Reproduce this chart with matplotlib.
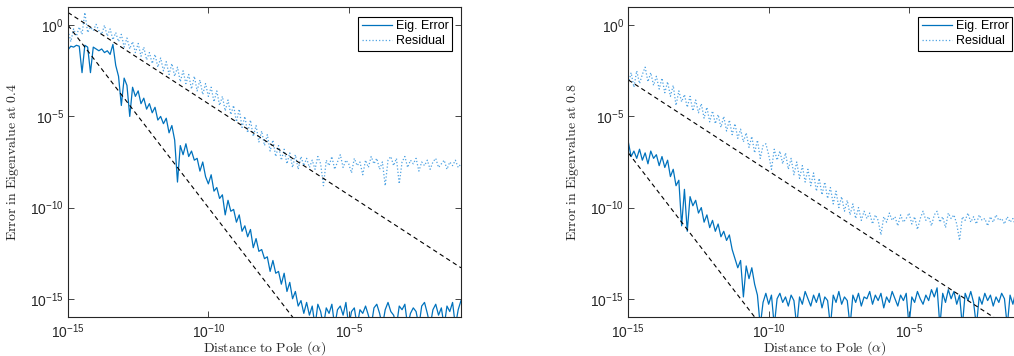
import numpy as np
import matplotlib
matplotlib.use('Agg')
import matplotlib.pyplot as plt
from matplotlib.ticker import FixedLocator, NullLocator

plt.rcParams['font.family'] = ['Liberation Sans', 'DejaVu Sans']
plt.rcParams['mathtext.fontset'] = 'custom'
plt.rcParams['mathtext.rm'] = 'Liberation Sans'
plt.rcParams['mathtext.it'] = 'Liberation Sans:italic'
plt.rcParams['mathtext.bf'] = 'Liberation Sans:bold'

# log10 of the values on a grid from 1e-15 to 1e-1
# --- eigenvalue at 0.4 ---
eig_err_04 = [
    -1.35, -1.15, -1.2, -1.1, -1.15, -2.6, -1.1, -1.2, -2.6, -1.2,
    -1.3, -1.4, -1.3, -1.5, -1.4, -1.6, -1.05, -2.2, -2.8, -4.4,
    -2.9, -3.3, -5.0, -3.4, -3.9, -3.6, -4.3, -4.0, -4.6, -4.3,
    -4.8, -4.5, -5.2, -5.0, -5.4, -5.1, -5.9, -5.5, -6.3, -8.6,
    -6.6, -7.1, -6.5, -7.2, -6.9, -7.4, -7.3, -8.0, -7.5, -8.3,
    -8.7, -8.2, -9.1, -8.9, -9.5, -9.3, -10.4, -9.6, -10.2, -10.1,
    -10.8, -10.4, -11.3, -11.0, -11.6, -11.2, -12.2, -11.7, -12.4, -12.3,
    -12.8, -12.7, -13.5, -12.9, -13.6, -13.5, -14.2, -13.6, -14.6, -14.1,
    -15.0, -14.6, -15.4, -15.1, -15.8,
    -15.2, -15.9, -15.4, -16.5, -15.3, -15.7, -16.5, -15.5, -15.8, -15.3,
    -16.5, -15.6, -15.4, -15.9, -15.2, -16.5, -15.7, -15.5, -16.5, -15.6,
    -15.8, -15.4, -15.9, -16.5, -15.5, -15.3, -15.8, -16.5, -15.6, -15.2,
    -15.7, -15.9, -16.5, -15.4, -15.6, -15.3, -16.5, -15.8, -15.5, -15.7,
    -16.5, -15.4, -15.2, -15.8, -16.5, -15.6, -15.3, -15.9, -15.5, -16.5,
    -15.4, -15.7, -15.2, -16.5, -15.6, -15.1,
]
resid_04 = [
    -0.3, -0.9, -0.2, -0.6, -0.1, -0.5, 0.7, -0.4, -0.1, -0.3,
    0.05, -0.3, -0.5, 0.0, -0.6, -0.2, -0.8, -0.4, -0.9, -0.5,
    -1.2, -0.7, -1.3, -0.9, -1.5, -1.0, -1.7, -1.2, -1.9, -1.5,
    -2.1, -1.6, -2.3, -1.8, -2.5, -2.0, -2.7, -2.1, -2.8, -2.3,
    -3.1, -2.5, -3.2, -2.7, -3.5, -2.8, -3.6, -3.0, -3.8, -3.2,
    -3.9, -3.4, -4.2, -3.6, -4.4, -3.9, -4.7, -4.1, -4.9, -4.4,
    -5.3, -4.6, -5.6, -5.0, -5.9, -5.2, -6.1, -5.5, -6.4, -5.8,
    -6.6, -6.0, -6.9, -6.3, -7.2, -6.6, -7.4, -6.8, -7.6, -7.0,
    -7.8, -7.1, -7.9, -7.2, -7.7,
    -7.3, -7.8, -7.4, -7.9, -7.2, -7.6, -8.8, -7.4, -7.7, -7.2,
    -7.9, -7.5, -7.1, -7.8, -7.4, -7.6, -8.1, -7.3, -7.7, -7.5,
    -8.2, -7.4, -7.8, -7.2, -7.6, -7.3, -7.9, -7.5, -8.8, -7.4,
    -7.2, -7.7, -7.3, -8.7, -7.5, -7.2, -7.8, -7.4, -7.6, -7.3,
    -8.0, -7.5, -7.7, -7.4, -7.9, -7.5, -7.3, -7.8, -7.6, -7.4,
    -7.9, -7.5, -7.7, -7.4, -7.8, -7.6,
]
# --- eigenvalue at 0.8 ---
eig_err_08 = [
    -6.4, -7.2, -6.9, -7.3, -6.8, -7.4, -7.0, -7.6, -6.9, -7.3,
    -7.1, -7.7, -7.2, -7.8, -7.4, -8.3, -7.9, -8.8, -8.5, -11.0,
    -9.0, -11.3, -9.4, -9.9, -9.6, -10.3, -10.0, -10.8, -10.4, -11.1,
    -10.7, -11.3, -10.9, -11.6, -11.3, -11.8, -11.5, -12.3, -12.8, -13.3,
    -12.9, -14.9, -13.2, -13.9, -13.3, -14.2, -14.8, -16.5, -15.2, -14.7,
    -15.3, -14.8, -16.5, -15.0,
    -14.7, -15.2, -14.9, -15.4, -14.8, -15.1, -16.5, -14.9, -15.3, -14.6,
    -15.0, -15.4, -14.8, -15.2, -14.7, -15.5, -14.9, -15.1, -16.5, -14.8,
    -15.2, -14.6, -15.3, -14.9, -15.1, -16.5, -14.8, -15.2, -14.7, -15.4,
    -14.9, -15.0, -14.6, -15.3, -14.8, -15.1, -14.7, -15.5, -14.9, -15.2,
    -14.6, -15.0, -15.4, -14.8, -15.1, -14.7, -16.5, -14.9, -15.2, -14.6,
    -15.0, -15.3, -14.8, -15.1, -14.5, -14.9, -14.4, -16.5, -14.7, -15.2,
    -14.5, -15.0, -14.6, -15.3, -14.8, -16.5, -14.7, -15.1, -14.6, -15.2,
    -16.5, -14.9, -15.3, -14.7, -15.1, -14.8, -15.4, -14.9, -15.2, -14.7,
    -15.0, -16.5, -14.8, -15.3, -14.6, -15.1, -14.9,
]
resid_08 = [
    -3.2, -2.6, -3.4, -2.5, -3.2, -2.7, -2.3, -3.1, -2.6, -3.3,
    -2.8, -3.5, -2.9, -3.7, -3.1, -3.9, -3.3, -4.4, -3.6, -4.2,
    -3.8, -4.5, -3.9, -4.7, -4.1, -4.8, -4.3, -5.1, -4.5, -5.3,
    -4.7, -5.4, -4.9, -5.6, -5.0, -5.8, -5.2, -6.0, -5.4, -6.2,
    -5.7, -6.4, -5.9, -6.7, -6.1, -7.0, -6.3, -7.3, -6.6, -6.5,
    -7.1, -7.9, -6.8, -7.4, -6.9, -7.6, -7.0, -7.9, -7.3, -8.2,
    -7.5, -8.4, -7.7, -8.6, -7.9, -8.8, -8.1, -9.1, -8.4, -9.3,
    -8.6, -9.5, -8.9, -9.8, -9.1, -10.0, -9.4, -10.2, -9.6, -10.4,
    -9.8, -10.6, -10.0, -10.7, -10.2,
    -10.6, -10.3, -10.9, -10.4, -10.7, -11.5, -10.5, -10.8, -10.3, -10.7,
    -10.5, -11.0, -10.4, -10.8, -10.6, -10.3, -10.9, -10.5, -11.2, -10.6,
    -10.2, -10.7, -10.5, -11.0, -10.4, -10.2, -10.8, -10.5, -11.1, -10.3,
    -10.6, -10.4, -10.9, -11.8, -10.5, -10.7, -10.3, -10.8, -10.5, -10.9,
    -10.4, -10.7, -10.6, -11.0, -10.5, -10.8, -10.4, -10.7, -10.6, -10.9,
    -10.5, -10.8, -10.6, -11.0, -10.7, -10.8,
]

# reference slopes (end points)
ref_x = [1e-15, 1e-1]
ref_steep_04 = [1e0, 1e-28]
ref_flat_04 = [5e0, 5e-14]
ref_steep_08 = [1e-7, 1e-35]
ref_flat_08 = [1e-3, 1e-17]

blue = '#0072BD'
light_blue = '#4FA3E3'
gray = '#262626'

fig = plt.figure(figsize=(10.14, 3.56), dpi=100)
W, H = 1014, 356
ax1 = fig.add_axes([68 / W, 1 - 317 / H, 393 / W, 310 / H])
ax2 = fig.add_axes([628.3 / W, 1 - 317 / H, 393 / W, 310 / H])

panels = [
    (ax1, eig_err_04, resid_04, ref_steep_04, ref_flat_04, '0.4', 452.3),
    (ax2, eig_err_08, resid_08, ref_steep_08, ref_flat_08, '0.8', 1012.3),
]

for ax, err, res, steep, flat, ev, leg_right in panels:
    xe = np.logspace(-15, -1, len(err))
    xr = np.logspace(-15, -1, len(res))
    ax.plot(xe, 10.0 ** np.array(err), '-', color=blue, lw=0.9, label='Eig. Error')
    ax.plot(xr, 10.0 ** np.array(res), ':', color=light_blue, lw=0.9, label='Residual')
    ax.plot(ref_x, steep, color='black', lw=0.8, linestyle=(0, (4, 3)))
    ax.plot(ref_x, flat, color='black', lw=0.8, linestyle=(0, (4, 3)))

    ax.set_xscale('log')
    ax.set_yscale('log')
    ax.set_xlim(1e-15, 1e-1)
    ax.set_ylim(1e-16, 1e1)
    ax.xaxis.set_major_locator(FixedLocator([1e-15, 1e-10, 1e-5]))
    ax.yaxis.set_major_locator(FixedLocator([1e-15, 1e-10, 1e-5, 1e0]))
    ax.xaxis.set_minor_locator(NullLocator())
    ax.yaxis.set_minor_locator(NullLocator())
    ax.tick_params(direction='in', length=4, width=0.6, colors=gray,
                   labelsize=10, top=True, right=True)
    ax.tick_params(axis='y', pad=3)
    ax.tick_params(axis='x', pad=4)
    for s in ax.spines.values():
        s.set_color(gray)
        s.set_linewidth(0.8)

    ax.set_ylabel(r'$\mathrm{Error\ in\ Eigenvalue\ at\ ' + ev + '}$',
                  math_fontfamily='cm', fontsize=10, color=gray)
    ax.set_xlabel(r'$\mathrm{Distance\ to\ Pole\ (}\alpha\mathrm{)}$',
                  math_fontfamily='cm', fontsize=10, color=gray)
    ax.yaxis.set_label_coords(-47 / 393, 0.5)
    ax.xaxis.set_label_coords(0.5, -22 / 310)

    ax.legend(loc='upper right', bbox_to_anchor=(leg_right / W, 1 - 16.7 / H),
              bbox_transform=fig.transFigure, borderaxespad=0, fontsize=9,
              frameon=True, fancybox=False, edgecolor='black', framealpha=1,
              handlelength=2.4, handletextpad=0.3, labelspacing=0.2,
              borderpad=0.3)
    ax.get_legend().get_frame().set_linewidth(0.8)

fig.savefig('out.png', dpi=100)
